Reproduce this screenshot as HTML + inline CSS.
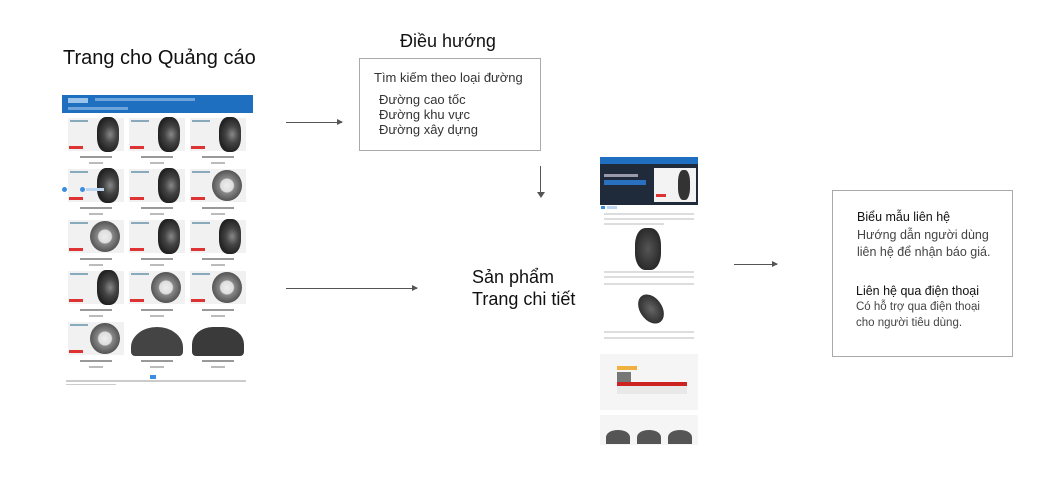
<!DOCTYPE html>
<html><head><meta charset="utf-8">
<style>
*{margin:0;padding:0;box-sizing:border-box}
body{width:1063px;height:491px;background:#fff;position:relative;overflow:hidden;font-family:"Liberation Sans","DejaVu Sans",sans-serif;color:#222}
.a{position:absolute}
.t{position:absolute;white-space:nowrap}
.card{position:absolute;width:56px;height:48px}
.card .img{position:absolute;left:0;top:0;width:56px;height:33px;background:#f1f1f1}
.card .tire{position:absolute;left:29px;top:-1px;width:22px;height:35px;border-radius:40%;background:radial-gradient(ellipse at 60% 50%,#888 0,#444 35%,#222 70%)}
.card .rim{position:absolute;left:22px;top:1px;width:30px;height:31px;border-radius:50%;background:radial-gradient(circle,#eee 0,#ddd 30%,#888 35%,#555 70%,#333 100%)}
.card .tag{position:absolute;left:1px;top:28px;width:14px;height:3px;background:#d33}
.card .lbl{position:absolute;left:2px;top:2px;width:18px;height:2px;background:#8ab}
.card .c1{position:absolute;left:12px;top:38px;width:32px;height:2px;background:#999}
.card .c2{position:absolute;left:21px;top:44px;width:14px;height:2px;background:#bbb}
.arrow{position:absolute;height:1px;background:#555}
.arrow:after{content:"";position:absolute;right:-1px;top:-3px;border-left:6px solid #555;border-top:3.5px solid transparent;border-bottom:3.5px solid transparent}
</style></head><body>

<div class="t" style="left:63px;top:47px;font-size:20px;color:#111">Trang cho Quảng cáo</div>

<div class="a" style="left:62px;top:95px;width:191px;height:18px;background:#1e6fc0"></div>
<div class="a" style="left:68px;top:98px;width:20px;height:5px;background:#9cc3ea"></div>
<div class="a" style="left:95px;top:98px;width:100px;height:3px;background:#6fa4db"></div>
<div class="a" style="left:68px;top:107px;width:60px;height:3px;background:#6fa4db"></div>

<div class="card" style="left:68px;top:118px"><div class="img"></div><div class="lbl"></div><div class="tire"></div><div class="tag"></div><div class="c1"></div><div class="c2"></div></div>
<div class="card" style="left:129px;top:118px"><div class="img"></div><div class="lbl"></div><div class="tire"></div><div class="tag"></div><div class="c1"></div><div class="c2"></div></div>
<div class="card" style="left:190px;top:118px"><div class="img"></div><div class="lbl"></div><div class="tire"></div><div class="tag"></div><div class="c1"></div><div class="c2"></div></div>

<div class="card" style="left:68px;top:169px"><div class="img"></div><div class="lbl"></div><div class="tire"></div><div class="tag"></div><div class="c1"></div><div class="c2"></div></div>
<div class="card" style="left:129px;top:169px"><div class="img"></div><div class="lbl"></div><div class="tire"></div><div class="tag"></div><div class="c1"></div><div class="c2"></div></div>
<div class="card" style="left:190px;top:169px"><div class="img"></div><div class="lbl"></div><div class="rim"></div><div class="tag"></div><div class="c1"></div><div class="c2"></div></div>
<div class="a" style="left:62px;top:187px;width:5px;height:5px;border-radius:50%;background:#3a8de0"></div>
<div class="a" style="left:80px;top:187px;width:5px;height:5px;border-radius:50%;background:#3a8de0"></div>
<div class="a" style="left:86px;top:188px;width:18px;height:3px;background:#bcd6f2"></div>

<div class="card" style="left:68px;top:220px"><div class="img"></div><div class="lbl"></div><div class="rim"></div><div class="tag"></div><div class="c1"></div><div class="c2"></div></div>
<div class="card" style="left:129px;top:220px"><div class="img"></div><div class="lbl"></div><div class="tire"></div><div class="tag"></div><div class="c1"></div><div class="c2"></div></div>
<div class="card" style="left:190px;top:220px"><div class="img"></div><div class="lbl"></div><div class="tire"></div><div class="tag"></div><div class="c1"></div><div class="c2"></div></div>

<div class="card" style="left:68px;top:271px"><div class="img"></div><div class="lbl"></div><div class="tire"></div><div class="tag"></div><div class="c1"></div><div class="c2"></div></div>
<div class="card" style="left:129px;top:271px"><div class="img"></div><div class="lbl"></div><div class="rim"></div><div class="tag"></div><div class="c1"></div><div class="c2"></div></div>
<div class="card" style="left:190px;top:271px"><div class="img"></div><div class="lbl"></div><div class="rim"></div><div class="tag"></div><div class="c1"></div><div class="c2"></div></div>

<div class="card" style="left:68px;top:322px"><div class="img"></div><div class="lbl"></div><div class="rim"></div><div class="tag"></div><div class="c1"></div><div class="c2"></div></div>
<div class="card" style="left:129px;top:322px"><div class="a" style="left:2px;top:5px;width:52px;height:29px;border-radius:50% 50% 4px 4px/70% 70% 4px 4px;background:#444"></div><div class="c1"></div><div class="c2"></div></div>
<div class="card" style="left:190px;top:322px"><div class="a" style="left:2px;top:5px;width:52px;height:29px;border-radius:40% 40% 4px 4px/60% 60% 4px 4px;background:#3a3a3a"></div><div class="c1"></div><div class="c2"></div></div>
<div class="a" style="left:150px;top:375px;width:6px;height:4px;background:#3a8de0"></div>
<div class="a" style="left:66px;top:380px;width:180px;height:2px;background:#ccc"></div>
<div class="a" style="left:66px;top:384px;width:50px;height:1px;background:#ccc"></div>

<div class="arrow" style="left:286px;top:122px;width:56px"></div>
<div class="arrow" style="left:286px;top:288px;width:131px"></div>
<div class="a" style="left:540px;top:166px;width:1px;height:30px;background:#555"></div>
<div class="a" style="left:536.5px;top:192px;border-top:6px solid #555;border-left:4px solid transparent;border-right:4px solid transparent"></div>
<div class="arrow" style="left:734px;top:264px;width:43px"></div>

<div class="t" style="left:400px;top:31px;font-size:18px;color:#111">Điều hướng</div>
<div class="a" style="left:359px;top:58px;width:182px;height:93px;border:1.5px solid #aaa"></div>
<div class="t" style="left:374px;top:70px;font-size:13px;color:#333">Tìm kiếm theo loại đường</div>
<div class="t" style="left:379px;top:92px;font-size:13px;line-height:15px;color:#333">Đường cao tốc<br>Đường khu vực<br>Đường xây dựng</div>

<div class="t" style="left:472px;top:266px;font-size:18px;line-height:22px;color:#111">Sản phẩm<br>Trang chi tiết</div>

<div class="a" style="left:600px;top:157px;width:98px;height:48px;background:#1f2a3a"></div>
<div class="a" style="left:600px;top:157px;width:98px;height:7px;background:#1e6fc0"></div>
<div class="a" style="left:604px;top:174px;width:34px;height:3px;background:#99a"></div>
<div class="a" style="left:604px;top:180px;width:42px;height:5px;background:#2a70c0"></div>
<div class="a" style="left:654px;top:168px;width:42px;height:34px;background:#f3f3f3"></div>
<div class="a" style="left:678px;top:170px;width:12px;height:30px;border-radius:40%;background:#333"></div>
<div class="a" style="left:656px;top:194px;width:10px;height:3px;background:#d33"></div>
<div class="a" style="left:601px;top:206px;width:4px;height:3px;background:#3a8de0"></div>
<div class="a" style="left:607px;top:206px;width:10px;height:3px;background:#bcd6f2"></div>
<div class="a" style="left:604px;top:213px;width:90px;height:2px;background:#ddd"></div>
<div class="a" style="left:604px;top:218px;width:90px;height:2px;background:#ddd"></div>
<div class="a" style="left:604px;top:223px;width:60px;height:2px;background:#ddd"></div>
<div class="a" style="left:635px;top:228px;width:26px;height:42px;border-radius:40%;background:radial-gradient(ellipse,#555,#1a1a1a)"></div>
<div class="a" style="left:604px;top:271px;width:90px;height:2px;background:#ddd"></div>
<div class="a" style="left:604px;top:276px;width:90px;height:2px;background:#ddd"></div>
<div class="a" style="left:604px;top:283px;width:90px;height:2px;background:#ddd"></div>
<div class="a" style="left:640px;top:293px;width:22px;height:32px;border-radius:50%;transform:rotate(-35deg);background:radial-gradient(ellipse,#666,#1a1a1a)"></div>
<div class="a" style="left:604px;top:331px;width:90px;height:2px;background:#ddd"></div>
<div class="a" style="left:604px;top:337px;width:90px;height:2px;background:#ddd"></div>
<div class="a" style="left:600px;top:354px;width:98px;height:56px;background:#f5f5f5"></div>
<div class="a" style="left:617px;top:366px;width:20px;height:4px;background:#f0b040"></div>
<div class="a" style="left:617px;top:372px;width:14px;height:10px;background:#777"></div>
<div class="a" style="left:617px;top:382px;width:70px;height:4px;background:#c22"></div>
<div class="a" style="left:617px;top:386px;width:70px;height:8px;background:#e8e8e8"></div>
<div class="a" style="left:600px;top:415px;width:98px;height:30px;background:#f5f5f5"></div>
<div class="a" style="left:606px;top:430px;width:24px;height:14px;border-radius:50% 50% 0 0;background:#555"></div>
<div class="a" style="left:637px;top:430px;width:24px;height:14px;border-radius:50% 50% 0 0;background:#555"></div>
<div class="a" style="left:668px;top:430px;width:24px;height:14px;border-radius:50% 50% 0 0;background:#555"></div>

<div class="a" style="left:832px;top:190px;width:181px;height:167px;border:1.5px solid #aaa"></div>
<div class="t" style="left:857px;top:210px;font-size:12.5px;color:#111">Biểu mẫu liên hệ</div>
<div class="t" style="left:857px;top:227px;font-size:12.5px;line-height:17px;color:#444">Hướng dẫn người dùng<br>liên hệ để nhận báo giá.</div>
<div class="t" style="left:856px;top:284px;font-size:12.5px;color:#111">Liên hệ qua điện thoại</div>
<div class="t" style="left:856px;top:299px;font-size:11.5px;line-height:16px;color:#444">Có hỗ trợ qua điện thoại<br>cho người tiêu dùng.</div>
</body></html>
